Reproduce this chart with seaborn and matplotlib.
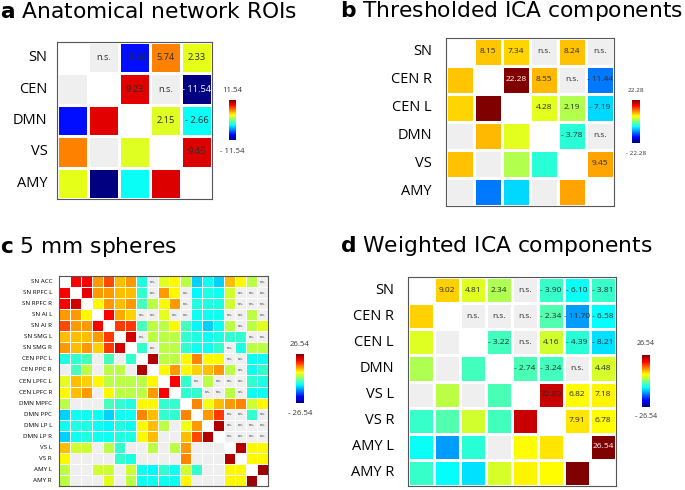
import numpy as np
import matplotlib
matplotlib.use("Agg")
import matplotlib.pyplot as plt
from matplotlib.colors import ListedColormap, LinearSegmentedColormap
import seaborn as sns

NS = np.nan  # non-significant cell

# ---------------- panel a ----------------
a_title = "Anatomical network ROIs"
a_labels = ["SN", "CEN", "DMN", "VS", "AMY"]
a_vmax = 11.54
a_values = [
    [0, NS, -8.34, 5.74, 2.33],
    [NS, 0, 9.23, NS, -11.54],
    [-8.34, 9.23, 0, 2.15, -2.66],
    [5.74, NS, 2.15, 0, 9.45],
    [2.33, -11.54, -2.66, 9.45, 0],
]

# ---------------- panel b ----------------
b_title = "Thresholded ICA components"
b_labels = ["SN", "CEN R", "CEN L", "DMN", "VS", "AMY"]
b_vmax = 22.28
b_values = [
    [0, 8.15, 7.34, NS, 8.24, NS],
    [8.15, 0, 22.28, 8.55, NS, -11.44],
    [7.34, 22.28, 0, 4.28, 2.19, -7.19],
    [NS, 8.55, 4.28, 0, -3.78, NS],
    [8.24, NS, 2.19, -3.78, 0, 9.45],
    [NS, -11.44, -7.19, NS, 9.45, 0],
]

# ---------------- panel c ----------------
c_title = "5 mm spheres"
c_labels = ["SN ACC", "SN RPFC L", "SN RPFC R", "SN AI L", "SN AI R",
            "SN SMG L", "SN SMG R", "CEN PPC L", "CEN PPC R", "CEN LPFC L",
            "CEN LPFC R", "DMN MPFC", "DMN PPC", "DMN LP L", "DMN LP R",
            "VS L", "VS R", "AMY L", "AMY R"]
c_vmax = 26.54
c_values = [
    [0, 20, 20, 12, 16, 10, 12, -5, NS, 5, 7, 3, -9, -6, -9, 10, 7, 3, NS],
    [20, 0, 21, 12, 12, 10, 10, -4, NS, 12, 7, NS, -7, -5, -6, 4, NS, NS, NS],
    [20, 22, 0, 7, 12, 10, 12, -3, 3, 7, 12, NS, -5, -5, -5, 4, NS, NS, NS],
    [12, 12, 7, 0, 20, 11, 9, NS, NS, 5, NS, NS, -6, -6, -6, NS, NS, 3, NS],
    [16, 12, 12, 20, 0, 17, 17, -3, 3, 3, 7, -3, -7, -9, -6, 3, NS, 3, 5],
    [10, 10, 10, 12, 17, 0, 22, NS, 3, 3, 3, -4, -5, -6, -5, -4, -4, NS, NS],
    [12, 10, 12, 9, 17, 22, 0, -4, NS, 3, 3, -4, -6, -6, -4, NS, -5, 3, 3],
    [-5, -4, -3, NS, -3, NS, -4, 0, 24, 3, 3, 7, 13, 7, 7, NS, NS, -6, -6],
    [NS, -3, 3, NS, 3, 3, NS, 24, 0, 7, 12, 7, 9, 10, 12, 3, NS, -6, -4],
    [5, 10, 9, 7, 3, 3, 3, 3, 7, 0, 20, -4, NS, 3, NS, NS, NS, -4, -5],
    [7, 10, 12, NS, 7, 3, 3, 3, 12, 20, 0, -4, -4, NS, NS, 3, NS, -6, -6],
    [3, NS, NS, NS, -3, -4, -5, 7, 7, -4, -4, 0, 13, 6, 10, 12, 13, 4, 7],
    [-9, -6, -6, -6, -9, -6, -6, 13, 10, -4, -4, 13, 0, 12, 17, NS, NS, -4, NS],
    [-6, -5, -5, -6, -7, -5, -6, 7, 10, 3, NS, 6, 12, 0, 24, NS, NS, NS, NS],
    [-9, -6, -5, -6, -6, -5, -5, 7, 10, NS, NS, 10, 16, 24, 0, NS, NS, NS, NS],
    [10, 4, 4, NS, 3, -4, NS, NS, 3, NS, 3, 12, NS, NS, NS, 0, 24, 7, 7],
    [7, NS, NS, NS, NS, -4, -5, NS, NS, NS, NS, 13, NS, NS, NS, 24, 0, 7, 7],
    [3, NS, NS, 4, 4, NS, 4, -6, -7, -4, -6, 4, -4, NS, NS, 7, 7, 0, 25],
    [3, NS, NS, NS, 5, NS, 3, -6, -6, -6, -6, 7, NS, NS, NS, 7, 7, 25, 0],
]

# ---------------- panel d ----------------
d_title = "Weighted ICA components"
d_labels = ["SN", "CEN R", "CEN L", "DMN", "VS L", "VS R", "AMY L", "AMY R"]
d_vmax = 26.54
d_values = [
    [0, 9.02, 4.81, 2.34, NS, -3.90, -6.10, -3.81],
    [9.02, 0, NS, NS, NS, -2.34, -11.70, -6.58],
    [4.81, NS, 0, -3.22, NS, 4.16, -4.39, -8.21],
    [2.34, NS, -3.22, 0, -2.74, -3.24, NS, 4.48],
    [NS, 3.0, NS, -2.74, 0, 22.80, 6.82, 7.18],
    [-3.90, -2.34, 4.16, -3.24, 22.80, 0, 7.91, 6.78],
    [-6.10, -11.70, -4.39, NS, 6.82, 7.91, 0, 26.54],
    [-3.81, -6.58, -8.21, 4.48, 7.18, 6.78, 26.54, 0],
]

plt.rcParams["font.family"] = ["Open Sans", "DejaVu Sans"]
plt.rcParams["mathtext.fontset"] = "dejavusans"

# MATLAB-style jet
jet_m = LinearSegmentedColormap.from_list(
    "jet_m",
    [(0.0, (0, 0, 0.5)), (0.125, (0, 0, 1)), (0.375, (0, 1, 1)),
     (0.625, (1, 1, 0)), (0.875, (1, 0, 0)), (1.0, (0.5, 0, 0))], N=256)

W, H = 685, 490
fig = plt.figure(figsize=(W / 100, H / 100), dpi=100)


def px_rect(x0, y0, x1, y1):
    return [x0 / W, 1 - y1 / H, (x1 - x0) / W, (y1 - y0) / H]


def fmt_val(v):
    return f"- {abs(v):.2f}" if v < 0 else f"{v:.2f}"


def panel(rect, cax_rect, values, labels, vmax, lab_size, ann_size, cb_size,
          lw, pad, numbers=True, cb_off=(7, 8)):
    ax = fig.add_axes(px_rect(*rect))
    cax = fig.add_axes(px_rect(*cax_rect))
    data = np.array(values, dtype=float)
    n = len(labels)
    diag = np.eye(n, dtype=bool)
    ann = np.full((n, n), "", dtype=object)
    for i in range(n):
        for j in range(i + 1, n):
            v = data[i, j]
            if np.isnan(v):
                ann[i, j] = "n.s."
            elif numbers:
                ann[i, j] = fmt_val(v)
    base = diag.astype(float)
    sns.heatmap(base, ax=ax, cmap=ListedColormap(["#efefef", "white"]),
                vmin=0, vmax=1, cbar=False, linewidths=lw, linecolor="white",
                annot=ann, fmt="",
                annot_kws={"fontsize": ann_size, "color": "#2b2b2b"})
    sns.heatmap(data, ax=ax, mask=np.isnan(data) | diag, cmap=jet_m,
                vmin=-vmax, vmax=vmax, cbar_ax=cax, linewidths=lw,
                linecolor="white", xticklabels=False, yticklabels=labels)
    for t in ax.texts:
        x, y = t.get_position()
        i, j = int(y), int(x)
        v = data[i, j]
        if not np.isnan(v) and abs(v) >= vmax - 0.005:
            t.set_color("white")
    plt.setp(ax.get_yticklabels(), rotation=0, fontsize=lab_size)
    ax.tick_params(axis="y", length=0, pad=pad)
    ax.tick_params(axis="x", length=0)
    for s in ax.spines.values():
        s.set_visible(True)
        s.set_color("#555555")
        s.set_linewidth(0.8)
    cax.set_yticks([])
    cax.tick_params(length=0)
    for s in cax.spines.values():
        s.set_visible(False)
    cax.annotate(fmt_val(vmax), xy=(0.5, 1), xycoords="axes fraction",
                 xytext=(0, cb_off[0]), textcoords="offset points",
                 ha="center", va="center", fontsize=cb_size, color="#333333")
    cax.annotate(fmt_val(-vmax), xy=(0.5, 0), xycoords="axes fraction",
                 xytext=(0, -cb_off[1]), textcoords="offset points",
                 ha="center", va="center", fontsize=cb_size, color="#333333")
    return ax


panel((57, 42, 212, 199), (229, 100, 236, 140), a_values, a_labels, a_vmax,
      10.5, 6.7, 5.6, 1.0, 7, cb_off=(7.2, 8))
panel((446, 38, 614, 206), (632, 100, 640, 142.7), b_values, b_labels, b_vmax,
      10.5, 6.0, 4.6, 1.0, 10, cb_off=(6.5, 8))
panel((59, 276, 268, 486), (296, 354, 304, 403), c_values, c_labels, c_vmax,
      4.5, 2.6, 5.6, 0.7, 5, numbers=False, cb_off=(7.2, 7.2))
panel((408, 277, 616, 486), (642, 355, 650, 407), d_values, d_labels, d_vmax,
      10.5, 6.0, 5.0, 1.0, 10, cb_off=(8, 7.2))

title_kw = dict(fontsize=15.7, family="DejaVu Sans", va="baseline", ha="left")
fig.text(0 / W, 1 - 18 / H, r"$\mathbf{a}$ " + a_title, **title_kw)
fig.text(340 / W, 1 - 17 / H, r"$\mathbf{b}$ " + b_title, **title_kw)
fig.text(0 / W, 1 - 253 / H, r"$\mathbf{c}$ " + c_title, **title_kw)
fig.text(340 / W, 1 - 252 / H, r"$\mathbf{d}$ " + d_title, **title_kw)

fig.savefig("out.png", dpi=100)
